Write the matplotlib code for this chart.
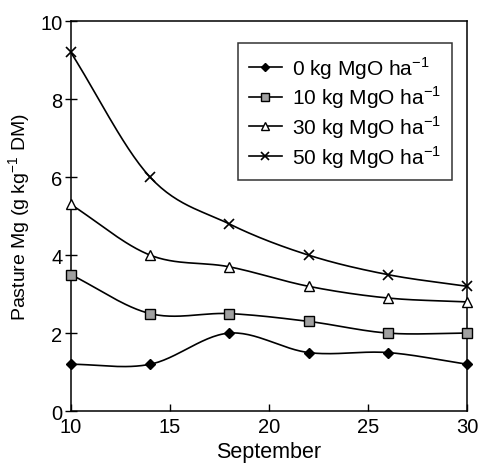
import numpy as np
import matplotlib
matplotlib.use("Agg")
import matplotlib.pyplot as plt

plt.rcParams['font.family'] = ['Liberation Sans', 'DejaVu Sans']
plt.rcParams['font.size'] = 14.5
plt.rcParams['mathtext.fontset'] = 'custom'
plt.rcParams['mathtext.rm'] = 'Liberation Sans'

days = [10, 14, 18, 22, 26, 30]
mg_0 = [1.2, 1.2, 2.0, 1.5, 1.5, 1.2]
mg_10 = [3.5, 2.5, 2.5, 2.3, 2.0, 2.0]
mg_30 = [5.3, 4.0, 3.7, 3.2, 2.9, 2.8]
mg_50 = [9.2, 6.0, 4.8, 4.0, 3.5, 3.2]
labels = [r"0 kg MgO ha$^{\mathrm{-1}}$", r"10 kg MgO ha$^{\mathrm{-1}}$",
          r"30 kg MgO ha$^{\mathrm{-1}}$", r"50 kg MgO ha$^{\mathrm{-1}}$"]


def smooth(x, y, n=30):
    # catmull-rom curve through the points, like Excel's smoothed line
    x = np.asarray(x, float)
    y = np.asarray(y, float)
    px = np.concatenate([[2*x[0]-x[1]], x, [2*x[-1]-x[-2]]])
    py = np.concatenate([[2*y[0]-y[1]], y, [2*y[-1]-y[-2]]])
    xs, ys = [], []
    t = np.linspace(0, 1, n)
    for i in range(1, len(px)-2):
        for p, out in ((px, xs), (py, ys)):
            p0, p1, p2, p3 = p[i-1], p[i], p[i+1], p[i+2]
            out.extend(0.5*((2*p1) + (-p0+p2)*t + (2*p0-5*p1+4*p2-p3)*t**2
                            + (-p0+3*p1-3*p2+p3)*t**3))
    return xs, ys


fig = plt.figure(figsize=(4.79, 4.64), dpi=100)
ax = fig.add_axes([0.148, 0.112, 0.827, 0.840])

styles = [dict(marker="D", mfc="black", mec="black", ms=5.5),
          dict(marker="s", mfc="#a0a0a0", mec="black", ms=7),
          dict(marker="^", mfc="white", mec="black", ms=7.5),
          dict(marker="x", mfc="none", mec="black", ms=7, mew=1.2)]

for ys, lab, st in zip([mg_0, mg_10, mg_30, mg_50], labels, styles):
    sx, sy = smooth(days, ys)
    ax.plot(sx, sy, color="black", lw=1.2, zorder=2)
    ax.plot(days, ys, ls="none", zorder=3, clip_on=False, **st)
    ax.plot([], [], color="black", lw=1.2, label=lab, **st)

ax.set_xlim(10, 30)
ax.set_ylim(0, 10)
ax.set_xticks([10, 15, 20, 25, 30])
ax.set_yticks([0, 2, 4, 6, 8, 10])
ax.tick_params(axis="x", direction="in", length=5, width=1, pad=4)
ax.tick_params(axis="y", direction="inout", length=8, width=1, pad=2)
for s in ax.spines.values():
    s.set_linewidth(1.1)
ax.set_xlabel("September", fontsize=15.5, labelpad=4)
ax.set_ylabel(r"Pasture Mg (g kg$^{\mathrm{-1}}$ DM)", fontsize=14, labelpad=5)

leg = ax.legend(loc="upper right", bbox_to_anchor=(0.962, 0.943), frameon=True,
                fancybox=False, edgecolor="black", handlelength=1.6,
                borderpad=0.5, labelspacing=0.15, handletextpad=0.5,
                borderaxespad=0, fontsize=15, markerscale=0.8)
leg.get_frame().set_linewidth(1.1)

plt.savefig("out.png", dpi=100)
